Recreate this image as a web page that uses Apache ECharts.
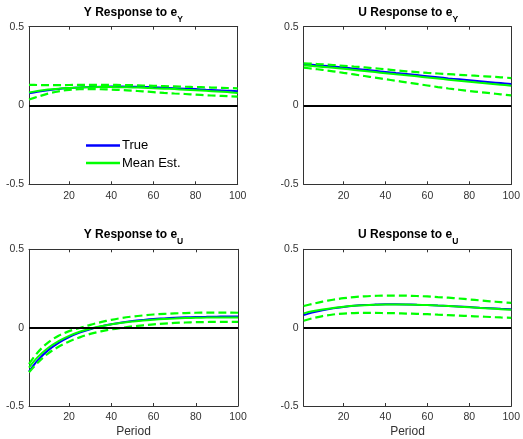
<!DOCTYPE html>
<html>
<head>
<meta charset="utf-8">
<script src="https://cdn.jsdelivr.net/npm/echarts@6/dist/echarts.min.js"></script>
<style>html,body{margin:0;padding:0;background:#fff}#c{width:523px;height:439px}</style>
</head>
<body>
<div id="c"></div>
<script>
// ---- data ----
const periods = [1,5,10,15,20,25,30,35,40,45,50,55,60,65,70,75,80,85,90,95,100];
const xTicks = [20,40,60,80,100];
const yTicks = [-0.5,0,0.5];
const titles = [['Y Response to e','Y'],['U Response to e','Y'],['Y Response to e','U'],['U Response to e','U']];

// Y response to e_Y
const yy_true  = [0.077,0.087,0.097,0.105,0.110,0.114,0.117,0.119,0.120,0.120,0.119,0.118,0.116,0.113,0.110,0.107,0.104,0.100,0.097,0.094,0.091];
const yy_mean  = [0.082,0.092,0.101,0.107,0.111,0.114,0.116,0.117,0.117,0.116,0.115,0.113,0.110,0.107,0.104,0.100,0.097,0.093,0.089,0.085,0.080];
const yy_upper = [0.131,0.130,0.129,0.129,0.130,0.131,0.131,0.131,0.131,0.130,0.129,0.127,0.125,0.123,0.121,0.119,0.117,0.115,0.113,0.111,0.109];
const yy_lower = [0.038,0.055,0.075,0.090,0.099,0.103,0.104,0.103,0.101,0.098,0.094,0.090,0.085,0.080,0.076,0.073,0.069,0.065,0.062,0.059,0.056];
// U response to e_Y
const uy_true  = [0.263,0.259,0.253,0.247,0.241,0.234,0.227,0.220,0.213,0.206,0.200,0.193,0.186,0.179,0.172,0.166,0.160,0.154,0.148,0.142,0.136];
const uy_mean  = [0.255,0.251,0.245,0.239,0.233,0.226,0.219,0.212,0.205,0.198,0.192,0.185,0.178,0.171,0.164,0.157,0.151,0.144,0.138,0.132,0.126];
const uy_upper = [0.268,0.265,0.261,0.257,0.252,0.247,0.242,0.236,0.230,0.223,0.217,0.212,0.207,0.203,0.199,0.195,0.191,0.187,0.183,0.179,0.174];
const uy_lower = [0.240,0.234,0.226,0.217,0.207,0.197,0.187,0.177,0.167,0.157,0.147,0.137,0.127,0.117,0.108,0.100,0.092,0.085,0.078,0.071,0.064];
// Y response to e_U
const yu_true  = [-0.280,-0.210,-0.145,-0.097,-0.060,-0.032,-0.010,0.008,0.022,0.033,0.042,0.049,0.055,0.059,0.063,0.066,0.068,0.069,0.070,0.071,0.071];
const yu_mean  = [-0.255,-0.190,-0.130,-0.086,-0.052,-0.026,-0.007,0.009,0.021,0.031,0.039,0.046,0.051,0.055,0.058,0.061,0.063,0.064,0.065,0.065,0.065];
const yu_upper = [-0.232,-0.160,-0.095,-0.052,-0.022,-0.002,0.018,0.035,0.050,0.062,0.071,0.078,0.084,0.088,0.091,0.093,0.095,0.096,0.096,0.096,0.095];
const yu_lower = [-0.285,-0.225,-0.165,-0.122,-0.088,-0.062,-0.040,-0.024,-0.011,-0.001,0.008,0.015,0.021,0.026,0.030,0.033,0.035,0.036,0.037,0.037,0.037];
// U response to e_U
const uu_true  = [0.080,0.096,0.111,0.123,0.132,0.139,0.144,0.147,0.149,0.149,0.148,0.146,0.144,0.141,0.138,0.135,0.131,0.127,0.124,0.120,0.117];
const uu_mean  = [0.091,0.104,0.116,0.126,0.133,0.139,0.143,0.146,0.148,0.148,0.147,0.146,0.144,0.141,0.138,0.134,0.130,0.126,0.122,0.118,0.114];
const uu_upper = [0.138,0.151,0.166,0.178,0.188,0.195,0.200,0.203,0.205,0.205,0.204,0.202,0.199,0.195,0.191,0.186,0.180,0.174,0.168,0.163,0.158];
const uu_lower = [0.044,0.059,0.074,0.084,0.090,0.093,0.094,0.094,0.093,0.092,0.090,0.088,0.086,0.083,0.080,0.077,0.074,0.071,0.068,0.065,0.063];

const panels = [
  {t: yy_true, m: yy_mean, u: yy_upper, l: yy_lower},
  {t: uy_true, m: uy_mean, u: uy_upper, l: uy_lower},
  {t: yu_true, m: yu_mean, u: yu_upper, l: yu_lower},
  {t: uu_true, m: uu_mean, u: uu_upper, l: uu_lower}
];

// ---- layout ----
const FONT = 'Liberation Sans, Arial, Helvetica, sans-serif';
const grids = [
  {left: 29,    top: 26.7,  width: 208.7, height: 157.6},
  {left: 303.7, top: 26.7,  width: 209,   height: 157.6},
  {left: 29,    top: 249.3, width: 209,   height: 157.4},
  {left: 303.7, top: 249.3, width: 209,   height: 157.4}
];
const AX = '#333';
const xAxes = [], yAxes = [], series = [], graphics = [];
const pair = arr => periods.map((p, i) => [p, arr[i]]);

grids.forEach((g, gi) => {
  const bottomRow = gi >= 2;
  xAxes.push({
    type: 'value', gridIndex: gi, min: 1, max: 100, position: 'bottom',
    axisLine: {show: true, onZero: false, lineStyle: {color: AX, width: 1}},
    axisTick: {show: true, inside: true, length: 3, customValues: xTicks, lineStyle: {color: AX}},
    axisLabel: {show: true, customValues: xTicks, color: '#333', fontSize: 10.5, fontFamily: FONT, margin: 6},
    splitLine: {show: false},
    name: bottomRow ? 'Period' : '', nameLocation: 'middle', nameGap: 20,
    nameTextStyle: {color: '#333', fontSize: 12, fontFamily: FONT}
  });
  xAxes.push({
    type: 'value', gridIndex: gi, min: 1, max: 100, position: 'top',
    axisLine: {show: true, onZero: false, lineStyle: {color: AX, width: 1}},
    axisTick: {show: true, inside: true, length: 3, customValues: xTicks, lineStyle: {color: AX}},
    axisLabel: {show: false}, splitLine: {show: false}
  });
  yAxes.push({
    type: 'value', gridIndex: gi, min: -0.5, max: 0.5, interval: 0.5, position: 'left',
    axisLine: {show: true, onZero: false, lineStyle: {color: AX, width: 1}},
    axisTick: {show: true, inside: true, length: 3, lineStyle: {color: AX}},
    axisLabel: {show: true, color: '#333', fontSize: 10.5, fontFamily: FONT, margin: 5},
    splitLine: {show: false}
  });
  yAxes.push({
    type: 'value', gridIndex: gi, min: -0.5, max: 0.5, interval: 0.5, position: 'right',
    axisLine: {show: true, onZero: false, lineStyle: {color: AX, width: 1}},
    axisTick: {show: true, inside: true, length: 3, lineStyle: {color: AX}},
    axisLabel: {show: false}, splitLine: {show: false}
  });
  const xi = gi * 2, yi = gi * 2;
  const p = panels[gi];
  const common = {type: 'line', xAxisIndex: xi, yAxisIndex: yi, showSymbol: false, symbol: 'none', smooth: 0.35, animation: false, silent: true};
  series.push(Object.assign({}, common, {
    name: 'True', data: pair(p.t), lineStyle: {color: '#0000ff', width: 2}, itemStyle: {color: '#0000ff'}, z: 3,
    markLine: {silent: true, symbol: 'none', label: {show: false}, animation: false,
      lineStyle: {color: '#000', width: 2, type: 'solid'}, data: [{yAxis: 0}]}
  }));
  series.push(Object.assign({}, common, {
    name: 'Mean Est.', data: pair(p.m), lineStyle: {color: '#00ff00', width: 2}, itemStyle: {color: '#00ff00'}, z: 4
  }));
  series.push(Object.assign({}, common, {
    name: 'Upper', data: pair(p.u), lineStyle: {color: '#00ff00', width: 2.2, type: [8, 4]}, itemStyle: {color: '#00ff00'}, z: 4
  }));
  series.push(Object.assign({}, common, {
    name: 'Lower', data: pair(p.l), lineStyle: {color: '#00ff00', width: 2.2, type: [8, 4]}, itemStyle: {color: '#00ff00'}, z: 4
  }));
  graphics.push({
    type: 'text', x: g.left + g.width / 2, y: bottomRow ? 228.5 : 6.5, silent: true,
    style: {
      text: '{a|' + titles[gi][0] + '}{s|' + titles[gi][1] + '}',
      align: 'center', verticalAlign: 'top',
      rich: {
        a: {fontSize: 12, fontWeight: 'bold', fontFamily: FONT, fill: '#000', lineHeight: 18, verticalAlign: 'top'},
        s: {fontSize: 8.5, fontWeight: 'bold', fontFamily: FONT, fill: '#000', lineHeight: 18, verticalAlign: 'bottom'}
      }
    }
  });
});

const chart = echarts.init(document.getElementById('c'), null, {renderer: 'canvas'});
chart.setOption({
  animation: false,
  backgroundColor: '#fff',
  grid: grids.map(g => Object.assign({containLabel: false}, g)),
  xAxis: xAxes,
  yAxis: yAxes,
  series: series,
  graphic: graphics,
  legend: {
    data: ['True', 'Mean Est.'], orient: 'vertical', left: 86, top: 138.5,
    icon: 'rect', itemWidth: 34, itemHeight: 2.5, itemGap: 3.6,
    textStyle: {color: '#000', fontSize: 13, fontFamily: FONT, lineHeight: 14, padding: [0, 0, 0, -3]},
    selectedMode: false, padding: 0
  }
});
</script>
</body>
</html>
